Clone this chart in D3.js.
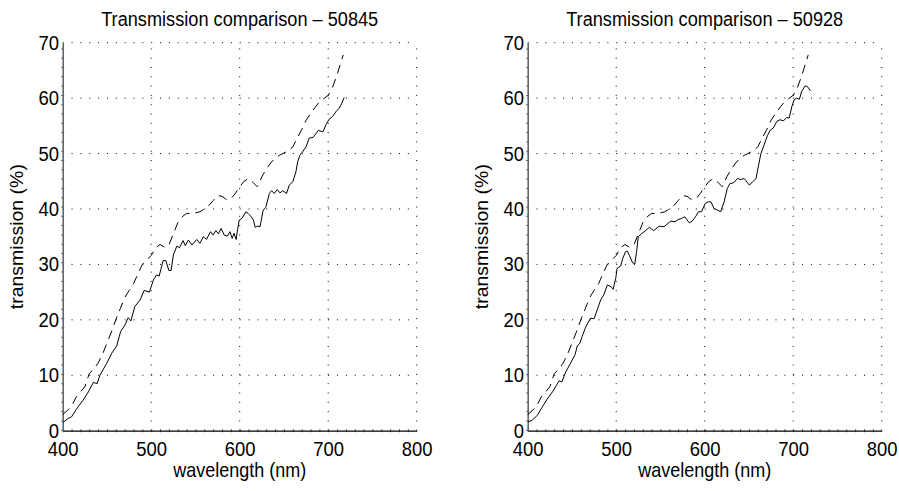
<!DOCTYPE html>
<html>
<head>
<meta charset="utf-8">
<script src="https://cdn.jsdelivr.net/npm/d3@7"></script>
<style>
  html, body { margin: 0; padding: 0; background: #fff; }
  svg { display: block; }
  text { font-family: "Liberation Sans", Arial, Helvetica, sans-serif; fill: #000; }
</style>
</head>
<body>
<svg id="chart" width="899" height="491"></svg>
<script>
// Axis ticks
const xTicks = [400, 500, 600, 700, 800];
const yTicks = [0, 10, 20, 30, 40, 50, 60, 70];

// Reference transmission curve (dashed), shared by both panels
const refWl = [400, 405, 410, 415, 420, 425, 430, 435, 440, 445, 450, 455, 460, 465, 470, 475, 480, 485, 490, 495,
  500, 505, 510, 515, 520, 525, 530, 535, 540, 545, 550, 555, 560, 565, 570, 575, 580, 585, 590, 595,
  600, 605, 610, 615, 620, 625, 630, 635, 640, 645, 650, 655, 660, 665, 670, 675, 680, 685, 690, 695,
  700, 705, 710, 715, 717];
const refT = [2.9, 3.6, 4.4, 6.0, 7.0, 7.9, 10.3, 11.1, 12.2, 13.8, 15.8, 17.8, 20.0, 22.0, 24.0, 25.3, 26.5, 28.3, 30.0, 30.8,
  31.6, 33.0, 33.6, 33.1, 33.5, 35.5, 37.5, 38.6, 39.2, 39.2, 39.3, 39.5, 40.0, 40.6, 41.5, 42.4, 42.3, 41.7, 41.8, 42.8,
  44.0, 45.0, 45.5, 44.8, 44.0, 45.8, 47.2, 48.3, 49.2, 49.7, 50.1, 50.5, 51.2, 52.8, 54.3, 56.0, 57.2, 58.3, 59.3, 59.9,
  60.5, 62.0, 64.2, 66.8, 67.8];

// Measured transmission, sample 50845
const wl50845 = [400.5, 406, 410, 416, 423, 429, 434.5, 439, 442, 449.5, 455.5, 461, 465.5, 470.5, 474, 477, 481.5, 487.5, 492, 498,
  502.5, 506, 509, 513.5, 516.5, 520, 522.5, 525, 529, 532, 536, 538.5, 542, 546, 551.5, 555, 559, 562.5, 567, 570,
  573, 576, 579, 582.5, 586, 589, 591.5, 593.5, 596, 597.5, 599.5, 602.5, 607, 609.5, 612.5, 615.5, 617.5, 620, 623, 626.5,
  629.5, 633.5, 636, 639, 642.5, 645.5, 648.5, 653, 656, 660, 663.5, 665.5, 668, 671, 675, 678.5, 683, 689, 694, 697.5,
  701, 705, 709, 712.5, 715.5, 718];
const t50845 = [1.5, 2.2, 2.5, 4.0, 5.5, 7.0, 8.7, 8.5, 10.0, 12.1, 14.0, 15.3, 17.9, 19.1, 20.4, 19.8, 22.4, 23.6, 25.3, 25.0,
  27.2, 28.1, 27.9, 30.7, 30.7, 28.9, 28.9, 31.7, 33.3, 33.0, 34.3, 33.4, 34.4, 33.5, 34.5, 33.8, 35.0, 34.5, 35.9, 35.3,
  36.1, 35.5, 36.5, 35.3, 35.1, 35.9, 34.7, 35.6, 34.5, 36.2, 38.0, 38.3, 39.5, 39.2, 38.7, 38.0, 36.7, 36.9, 36.8, 39.8,
  40.3, 42.8, 43.3, 42.8, 43.5, 42.9, 43.3, 42.8, 44.3, 44.9, 46.7, 48.5, 49.7, 50.3, 51.2, 52.8, 52.9, 54.2, 53.9, 55.2,
  56.2, 56.7, 57.6, 58.2, 59.1, 60.1];

// Measured transmission, sample 50928
const wl50928 = [400.5, 405, 411, 416.5, 422, 428, 432.5, 435.5, 438.5, 443, 448.5, 453.5, 456, 459, 461.5, 465.5, 471, 475, 478.5, 482.5,
  486, 490, 494, 496.5, 499.5, 501, 505, 507.5, 510.5, 512.5, 515, 518.5, 521, 523, 525, 529, 532.5, 537.5, 542.5, 548.5,
  554, 561.5, 566.5, 570, 574, 577.5, 582.5, 586.5, 590, 593, 596.5, 600.5, 604, 607, 610.5, 614.5, 618, 622, 625.5, 628.5,
  632.5, 637, 640.5, 644.5, 646.5, 650.5, 654, 658, 660.5, 663.5, 667, 671, 674, 677.5, 681.5, 685, 689, 692.5, 695.5, 698.5,
  701, 704, 707, 709.5, 713.5, 716, 719.5];
const t50928 = [1.6, 1.9, 2.8, 4.3, 5.7, 7.0, 8.2, 9.0, 8.8, 10.6, 12.2, 13.7, 15.3, 15.8, 17.0, 18.7, 20.3, 20.2, 21.8, 23.6,
  24.5, 26.3, 26.0, 25.5, 27.5, 29.3, 29.7, 31.1, 32.3, 32.4, 31.6, 30.3, 30.1, 32.3, 35.0, 35.6, 36.0, 36.7, 36.1, 36.9,
  36.8, 37.8, 37.7, 38.1, 38.3, 38.6, 37.5, 37.9, 38.7, 39.5, 39.5, 41.0, 41.3, 41.3, 40.1, 39.8, 39.5, 41.3, 43.7, 44.6,
  44.7, 45.5, 45.3, 45.5, 45.1, 44.3, 44.9, 45.5, 47.6, 50.0, 51.5, 53.3, 54.2, 54.6, 55.8, 56.1, 55.9, 56.5, 56.4, 58.5,
  59.7, 60.0, 59.8, 61.2, 62.2, 62.1, 61.3];

const titles = ["Transmission comparison \u2013 50845", "Transmission comparison \u2013 50928"];
const xLabel = "wavelength (nm)";
const yLabel = "transmission (%)";

// lettering is a slightly condensed sans
const SQUEEZE = 0.9;

const svg = d3.select("#chart");

const panels = [
  { left: 62.7, right: 416.7, title: titles[0], wl: wl50845, t: t50845 },
  { left: 527.7, right: 881.7, title: titles[1], wl: wl50928, t: t50928 }
];
const plotTop = 42.7, plotBottom = 430.7;

panels.forEach(p => {
  const x = d3.scaleLinear().domain([400, 800]).range([p.left, p.right]);
  const y = d3.scaleLinear().domain([0, 70]).range([plotBottom, plotTop]);
  const g = svg.append("g");

  // dotted grid
  const grid = g.append("g").attr("stroke", "#000").attr("fill", "none");
  xTicks.forEach(v => {
    const first = v === 400;
    grid.append("line")
      .attr("x1", x(v)).attr("x2", x(v))
      .attr("y1", plotBottom).attr("y2", plotTop)
      .attr("stroke-width", first ? 3 : 1)
      .attr("stroke", first ? "#555" : "#000")
      .attr("stroke-dasharray", "1,8.3");
  });
  yTicks.forEach(v => {
    const first = v === 0;
    grid.append("line")
      .attr("x1", p.left).attr("x2", p.right)
      .attr("y1", y(v)).attr("y2", y(v))
      .attr("stroke-width", first ? 3 : 1)
      .attr("stroke", first ? "#555" : "#000")
      .attr("stroke-dasharray", "1,7.85");
  });

  // axes
  const xAxis = d3.axisBottom(x).tickValues(xTicks).tickSize(0);
  const yAxis = d3.axisLeft(y).tickValues(yTicks).tickSize(0).tickPadding(4);
  const gx = g.append("g").attr("transform", `translate(0,${plotBottom})`).call(xAxis);
  const gy = g.append("g").attr("transform", `translate(${p.left},0)`).call(yAxis);
  gx.select(".domain").attr("stroke", "#000").attr("stroke-width", 1.2);
  gy.select(".domain").attr("stroke", "#666").attr("stroke-width", 1.6);
  [gx, gy].forEach(a => a.selectAll("text")
    .attr("font-family", "Liberation Sans, Arial, sans-serif")
    .attr("font-size", 20.5).attr("fill", "#000")
    .attr("transform", `scale(${SQUEEZE},1)`));
  gx.selectAll("text").attr("y", 25).attr("dy", 0);

  // curves
  const line = d3.line().x(d => x(d[0])).y(d => y(d[1]));
  const refPts = refWl.map((w, i) => [w, refT[i]]);
  const measPts = p.wl.map((w, i) => [w, p.t[i]]);
  g.append("path").datum(refPts).attr("d", line)
    .attr("fill", "none").attr("stroke", "#000").attr("stroke-width", 1)
    .attr("stroke-dasharray", "9,6");
  g.append("path").datum(measPts).attr("d", line)
    .attr("fill", "none").attr("stroke", "#000").attr("stroke-width", 1);

  // title and axis labels
  const cx = (p.left + p.right) / 2;
  g.append("text")
    .attr("transform", `translate(${cx},26) scale(${SQUEEZE},1)`)
    .attr("text-anchor", "middle").attr("font-size", 20.2).attr("fill", "#222").text(p.title);
  g.append("text")
    .attr("transform", `translate(${cx},477) scale(${SQUEEZE},1)`)
    .attr("text-anchor", "middle").attr("font-size", 20).attr("fill", "#222").text(xLabel);
  g.append("text")
    .attr("transform", `translate(${p.left - 40},${(plotTop + plotBottom) / 2}) rotate(-90) scale(1,${SQUEEZE})`)
    .attr("text-anchor", "middle").attr("font-size", 19.5).attr("fill", "#222").text(yLabel);
});
</script>
</body>
</html>
